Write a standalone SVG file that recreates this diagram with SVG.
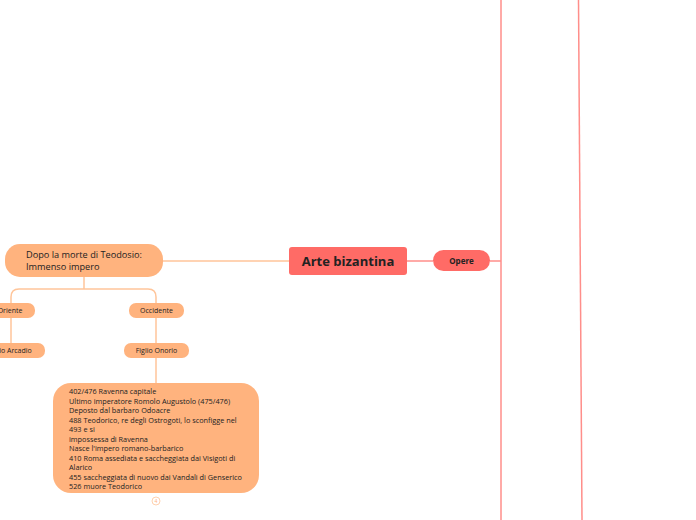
<svg xmlns="http://www.w3.org/2000/svg" width="696" height="520" viewBox="0 0 696 520">
<style>
.t{font-family:"Open Sans","Noto Sans","Liberation Sans",sans-serif;fill:#222}
.o{fill:#ffb37e}
.r{fill:#ff6b66}
.co{fill:none;stroke:#ffc59a;stroke-width:1.5}
.cr{fill:none;stroke:#ff8e8a;stroke-width:1.5}
</style>
<rect width="696" height="520" fill="#fff"/>
<g id="connectors">
<line class="cr" x1="501" y1="0" x2="501" y2="520" stroke="#ffaaa6"/>
<line class="cr" x1="578.5" y1="0" x2="582" y2="520" stroke="#ff7f79"/>
<line class="cr" x1="407" y1="261" x2="433" y2="261"/>
<line class="cr" x1="490" y1="261" x2="501" y2="261"/>
<line class="co" x1="163" y1="261" x2="289" y2="261"/>
<path class="co" d="M84 277 V289 M19 289 H148 Q156 289 156 297 V303 M19 289 Q11 289 11 297 V303"/>
<line class="co" x1="11" y1="318" x2="11" y2="343"/>
<line class="co" x1="156" y1="318" x2="156" y2="343"/>
<line class="co" x1="156" y1="358" x2="156" y2="383"/>
</g>
<g id="root">
<rect class="r" x="289" y="247" width="118" height="28" rx="3"/>
<text class="t" x="348" y="266" font-size="13" font-weight="bold" text-anchor="middle" fill="#1a1a1a">Arte bizantina</text>
</g>
<g id="opere">
<rect class="r" x="433" y="250" width="57" height="21" rx="10.5"/>
<text class="t" x="461.5" y="264" font-size="8" font-weight="bold" text-anchor="middle">Opere</text>
</g>
<g id="dopo">
<rect class="o" x="5" y="244" width="158" height="33" rx="15"/>
<text class="t" font-size="9.2"><tspan x="26" y="258">Dopo la morte di Teodosio:</tspan><tspan x="26" y="270">Immenso impero</tspan></text>
</g>
<g id="oriente">
<rect class="o" x="-15" y="303" width="50" height="15" rx="7"/>
<text class="t" x="10" y="313" font-size="7" text-anchor="middle">Oriente</text>
</g>
<g id="occidente">
<rect class="o" x="129" y="303" width="55" height="15" rx="7"/>
<text class="t" x="156.5" y="313" font-size="7" text-anchor="middle">Occidente</text>
</g>
<g id="arcadio">
<rect class="o" x="-25" y="343" width="70" height="15" rx="7"/>
<text class="t" x="10" y="353" font-size="7" text-anchor="middle">Figlio Arcadio</text>
</g>
<g id="onorio">
<rect class="o" x="124" y="343" width="65" height="15" rx="7"/>
<text class="t" x="156.5" y="353" font-size="7" text-anchor="middle">Figlio Onorio</text>
</g>
<g id="details">
<rect class="o" x="53" y="383" width="206" height="110" rx="18"/>
<text class="t" font-size="7.3">
<tspan x="69" y="394">402/476 Ravenna capitale</tspan>
<tspan x="69" y="403.5">Ultimo imperatore Romolo Augustolo (475/476)</tspan>
<tspan x="69" y="413">Deposto dal barbaro Odoacre</tspan>
<tspan x="69" y="422.5">488 Teodorico, re degli Ostrogoti, lo sconfigge nel</tspan>
<tspan x="69" y="432">493 e si</tspan>
<tspan x="69" y="441.5">impossessa di Ravenna</tspan>
<tspan x="69" y="451">Nasce l'impero romano-barbarico</tspan>
<tspan x="69" y="460.5">410 Roma assediata e saccheggiata dai Visigoti di</tspan>
<tspan x="69" y="470">Alarico</tspan>
<tspan x="69" y="479.5">455 saccheggiata di nuovo dai Vandali di Genserico</tspan>
<tspan x="69" y="489">526 muore Teodorico</tspan>
</text>
<circle cx="156" cy="501" r="4" fill="#fff" stroke="#ffc59a" stroke-width="0.8"/>
<text x="156" y="503" font-size="5" text-anchor="middle" font-family="Open Sans, sans-serif" fill="#ffb37e">4</text>
</g>
</svg>
